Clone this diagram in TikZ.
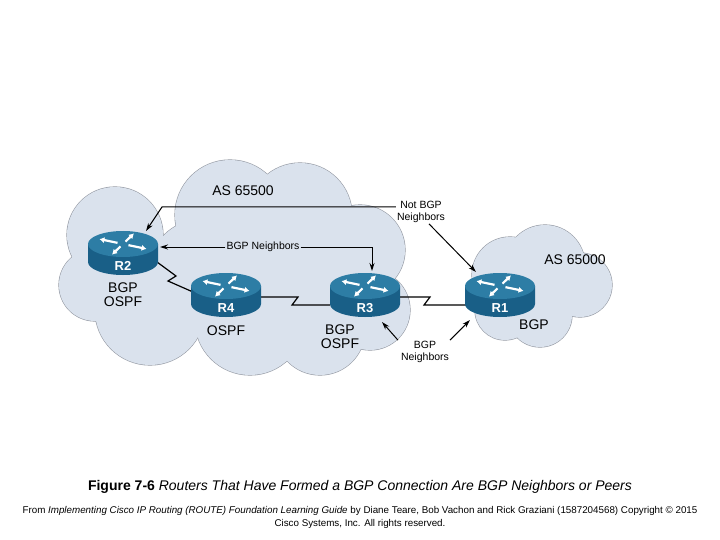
\documentclass[tikz,border=0pt]{standalone}
\usepackage{fontspec}
\setmainfont{Liberation Sans}
\usetikzlibrary{arrows.meta}
\definecolor{cloudfill}{RGB}{218,226,237}
\definecolor{cloudline}{RGB}{150,155,165}
\definecolor{rtop}{RGB}{45,125,165}
\definecolor{rbody}{RGB}{25,95,135}
\tikzset{every picture/.style={line width=0.75pt}}
\tikzset{
  lbl/.style={inner sep=0.75pt,font=\fontsize{14}{14}\selectfont,align=center},
  note/.style={inner sep=0.75pt,font=\fontsize{10.5}{12}\selectfont,align=center},
  pnt/.style={-{Stealth[length=8pt,width=5pt]},line width=1pt},
  wan/.style={line width=1.2pt},
}
% router drawn at (#1,#2) with name #3
\newcommand{\router}[3]{%
  \fill[rbody] (#1-35,#2) -- (#1-35,#2+18) arc[start angle=180,end angle=0,x radius=35,y radius=13] -- (#1+35,#2) -- cycle;
  \fill[rtop] (#1,#2) ellipse [x radius=35,y radius=13];
  \foreach \a in {25,115,205,295}
    \draw[white,line width=2.2pt,-{Latex[length=5pt,width=6pt]},yscale=0.45,shift={(#1,#2/0.45)}] (\a:6) -- (\a:26);
  \node[inner sep=0,text=white,font=\bfseries\fontsize{13}{13}\selectfont] at (#1,#2+22) {#3};
}
\begin{document}
\begin{tikzpicture}[x=1pt,y=1pt,yscale=-1,xscale=1]
\useasboundingbox (0,0) rectangle (720,540);

%Shape: left cloud
\foreach \x/\y/\r in {115/235/48,95/285/36,150/310/55,230/215/55,300/215/52,360/250/45,370/310/40,250/320/55,320/330/45,200/270/50,290/270/50}
  \draw[cloudline,line width=1.2pt] (\x,\y) circle (\r);
\foreach \x/\y/\r in {115/235/48,95/285/36,150/310/55,230/215/55,300/215/52,360/250/45,370/310/40,250/320/55,320/330/45,200/270/50,290/270/50}
  \fill[cloudfill] (\x,\y) circle (\r);
%Shape: right cloud
\foreach \x/\y/\r in {510/275/38,545/265/40,580/285/32,540/315/32,505/310/30}
  \draw[cloudline,line width=1.2pt] (\x,\y) circle (\r);
\foreach \x/\y/\r in {510/275/38,545/265/40,580/285/32,540/315/32,505/310/30}
  \fill[cloudfill] (\x,\y) circle (\r);

% WAN links
\draw[wan] (157,262) -- (176,276) -- (168,281) -- (193,292);
\draw[wan] (260,297) -- (298,297) -- (292,305) -- (330,305);
\draw[wan] (400,297) -- (430,297) -- (424,305) -- (466,305);

% Routers
\router{123}{244}{R2}
\router{226}{286}{R4}
\router{365}{286}{R3}
\router{500}{286}{R1}

% Text Node
\node[lbl] (as1) at (243,191) {AS 65500};
\node[lbl] (as2) at (575,260) {AS 65000};
\node[lbl] (r2p) at (123,295) {BGP\\OSPF};
\node[lbl] (r4p) at (226,331) {OSPF};
\node[lbl] (r3p) at (340,337) {BGP\\OSPF};
\node[lbl] (r1p) at (534,325) {BGP};
\node[note] (nbn) at (421,212) {Not BGP\\Neighbors};
\node[note] (bn) at (263,247) {BGP Neighbors};
\node[note] (bn2) at (425,352) {BGP\\Neighbors};
\coordinate (c1) at (162,207);
\coordinate (c2) at (372,247);

% arrows
\draw[pnt] (nbn.west |- 0,207) -- (c1) -- (146,231);
\draw[pnt] (bn.west) -- (160,247);
\draw[pnt] (bn.east) -- (c2) -- (372,271);
\draw[pnt] (nbn.south) ++(8,0) -- (476,272);
\draw[pnt] (bn2.north west) ++(-2,0) -- (382,322);
\draw[pnt] (bn2.north east) ++(0,0) -- (470,320);

% caption
\node[inner sep=0,font=\fontsize{14}{15}\selectfont] (cap) at (360,487) {\textbf{Figure 7-6} \textit{Routers That Have Formed a BGP Connection Are BGP Neighbors or Peers}};
\node[inner sep=0,font=\fontsize{9.8}{13}\selectfont,align=center] (src) at (360,517) {From \textit{Implementing Cisco IP Routing (ROUTE) Foundation Learning Guide} by Diane Teare, Bob Vachon and Rick Graziani (1587204568) Copyright © 2015\\Cisco Systems, Inc. All rights reserved.};
\end{tikzpicture}
\end{document}
